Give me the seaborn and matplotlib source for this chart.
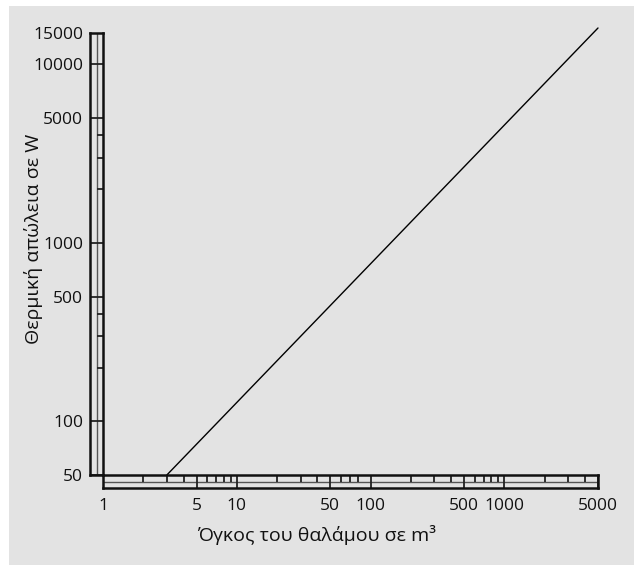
import matplotlib
matplotlib.use("Agg")
import matplotlib.pyplot as plt
import matplotlib.ticker as mticker
from matplotlib.patches import Rectangle
import seaborn as sns
import pandas as pd

sns.set_theme(style="white")
plt.rcParams['font.family'] = ['Open Sans', 'DejaVu Sans']

# Line data: chamber volume (m3) vs heat loss (W)
volume = [3, 5000]
heat_loss = [50, 16000]

# Scale bars
x_major = [1, 5, 10, 50, 100, 500, 1000, 5000]
x_minor = [2, 3, 4, 6, 7, 8, 9, 20, 30, 40, 60, 70, 80,
           200, 300, 400, 600, 700, 800, 900, 2000, 3000, 4000]
y_major = [50, 100, 500, 1000, 5000, 10000, 15000]
y_minor = [200, 300, 400, 2000, 3000, 4000]

W, H = 634, 565
BG = "#e3e3e3"

fig = plt.figure(figsize=(W / 100, H / 100), dpi=100)
fig.patch.set_facecolor("white")
fig.patches.append(Rectangle((9 / W, 0), 1, 1 - 6 / H, transform=fig.transFigure,
                             facecolor=BG, edgecolor="none", zorder=-10))

ax = fig.add_axes([103 / W, 90 / H, 495 / W, 442 / H])
ax_x = fig.add_axes([103 / W, 77 / H, 495 / W, 13 / H], sharex=ax)
ax_y = fig.add_axes([90 / W, 90 / H, 13 / W, 442 / H], sharey=ax)

ax.set_xscale("log")
ax.set_yscale("log")
ax.set_xlim(1, 5000)
ax.set_ylim(50, 15000)

df = pd.DataFrame({"volume": volume, "heat_loss": heat_loss})
sns.lineplot(data=df, x="volume", y="heat_loss", ax=ax, color="black", lw=1)
for ln in ax.lines:
    ln.set_clip_on(False)

ax.set_facecolor("none")
for s in ax.spines.values():
    s.set_visible(False)
ax.tick_params(left=False, bottom=False, labelleft=False, labelbottom=False)
ax.set_xlabel("")
ax.set_ylabel("")

# x scale bar
ax_x.set_facecolor("none")
ax_x.set_ylim(0, 1)
ax_x.axhline(0.5, color="#555555", lw=1)
ax_x.vlines(x_major, 0, 1, color="#222222", lw=1.3)
ax_x.vlines(x_minor, 0.5, 1, color="#222222", lw=1.3)
ax_x.set_xticks(x_major)
ax_x.set_xticklabels([str(v) for v in x_major])
ax_x.xaxis.set_minor_locator(mticker.NullLocator())
ax_x.set_yticks([])
ax_x.tick_params(axis="x", length=0, pad=7, labelsize=12.5, colors="#111111")

# y scale bar
ax_y.set_facecolor("none")
ax_y.set_xlim(0, 1)
ax_y.axvline(0.5, color="#555555", lw=1)
ax_y.hlines(y_major, 0, 1, color="#222222", lw=1.3)
ax_y.hlines(y_minor, 0.5, 1, color="#222222", lw=1.3)
ax_y.set_yticks(y_major)
ax_y.set_yticklabels([str(v) for v in y_major])
ax_y.yaxis.set_minor_locator(mticker.NullLocator())
ax_y.set_xticks([])
ax_y.tick_params(axis="y", length=0, pad=5, labelsize=12.5, colors="#111111")

for a in (ax_x, ax_y):
    for s in a.spines.values():
        s.set_visible(True)
        s.set_color("#111111")
        s.set_linewidth(1.8)

fig.text(317 / W, 1 - 535 / H, "Όγκος του θαλάμου σε m³", ha="center", va="center",
         fontsize=14, color="#111111")
fig.text(34 / W, 1 - 239 / H, "Θερμική απώλεια σε W", ha="center", va="center",
         rotation=90, fontsize=14, color="#111111")

fig.savefig("out.png", dpi=100)
